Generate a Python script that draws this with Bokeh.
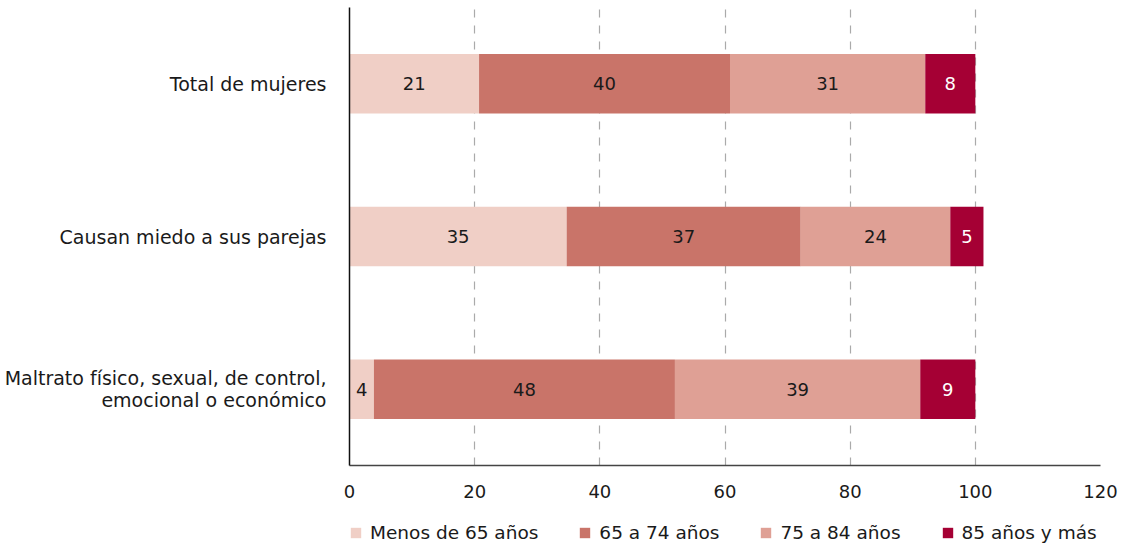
from bokeh.plotting import figure
from bokeh.layouts import column
from bokeh.models import (ColumnDataSource, FactorRange, Range1d, Legend, LegendItem,
                          FixedTicker, LabelSet)
from bokeh.core.properties import value
from bokeh.embed import file_html
from bokeh.resources import INLINE

categories = ["Total de mujeres", "Causan miedo a sus parejas",
              "Maltrato físico, sexual, de control,\nemocional o económico"]
series_names = ["Menos de 65 años", "65 a 74 años", "75 a 84 años", "85 años y más"]
menos65 = [20.7, 34.7, 3.9]
de65a74 = [40.1, 37.4, 48.1]
de75a84 = [31.2, 23.9, 39.2]
mas85 = [8.0, 5.3, 8.8]
colors = ["#f0cfc6", "#c97469", "#dfa095", "#a50034"]
label_colors = ["#1a1a1a", "#1a1a1a", "#1a1a1a", "#ffffff"]
x_ticks = [0, 20, 40, 60, 80, 100, 120]

FONT = "DejaVu Sans"
keys = ["s0", "s1", "s2", "s3"]
series = [menos65, de65a74, de75a84, mas85]

data = {"cat": categories}
for k, s in zip(keys, series):
    data[k] = s
source = ColumnDataSource(data)

p = figure(width=1132, height=505, output_backend="svg", toolbar_location=None,
           y_range=FactorRange(factors=list(reversed(categories))),
           x_range=Range1d(0, 120),
           min_border_left=349, min_border_right=32, min_border_top=7,
           min_border_bottom=40)
p.outline_line_color = None

renderers = p.hbar_stack(keys, y="cat", height=0.39, color=colors, line_color=None,
                         source=source)

# labels
for i, k in enumerate(keys):
    left = [sum(series[j][c] for j in range(i)) for c in range(len(categories))]
    mids = [l + series[i][c] / 2 for c, l in enumerate(left)]
    txt = [str(int(round(v))) for v in series[i]]
    ls = ColumnDataSource(dict(x=mids, y=categories, t=txt))
    p.add_layout(LabelSet(x="x", y="y", text="t", source=ls, text_align="center",
                          text_baseline="middle", text_font=value(FONT),
                          text_font_size=value("18px"),
                          text_color=value(label_colors[i])))

# axes
p.xaxis.ticker = FixedTicker(ticks=x_ticks)
p.xaxis.major_tick_line_color = None
p.xaxis.minor_tick_line_color = None
p.xaxis.major_tick_out = 0
p.xaxis.major_tick_in = 0
p.xaxis.major_label_standoff = 19
p.xaxis.major_label_text_font = FONT
p.xaxis.major_label_text_font_size = "18px"
p.xaxis.major_label_text_color = "#1a1a1a"
p.xaxis.axis_line_color = "#444444"
p.xaxis.axis_line_width = 1.5

p.yaxis.major_tick_line_color = None
p.yaxis.minor_tick_line_color = None
p.yaxis.major_tick_out = 0
p.yaxis.major_tick_in = 0
p.yaxis.major_label_standoff = 23
p.yaxis.major_label_text_font = FONT
p.yaxis.major_label_text_font_size = "19px"
p.yaxis.major_label_text_color = "#1a1a1a"
p.yaxis.major_label_text_line_height = 1.02
p.yaxis.axis_line_color = "#111111"
p.yaxis.axis_line_width = 1.5

p.xgrid.grid_line_color = "#aaaaaa"
p.xgrid.grid_line_dash = "8 8"
p.xgrid.grid_line_width = 1.2
p.ygrid.grid_line_color = None

# legend in a separate strip below the chart (frames are aligned by the column)
lg = figure(width=1132, height=39, output_backend="svg", toolbar_location=None,
            x_range=Range1d(0, 1), y_range=Range1d(0, 1),
            min_border_left=0, min_border_right=0, min_border_top=0, min_border_bottom=0)
lg.outline_line_color = None
lg.xaxis.visible = False
lg.yaxis.visible = False
lg.xgrid.visible = False
lg.ygrid.visible = False
# legend proxies: zero-size bars that only lend their colour to the legend
dummies = [lg.hbar(y=[0.5], left=[0.5], right=[0.5], height=0, color=c, line_color=None)
           for c in colors]

legend = Legend(items=[LegendItem(label=n, renderers=[r]) for n, r in zip(series_names, dummies)],
                orientation="horizontal", location=(0, 1),
                glyph_width=13, glyph_height=13, label_standoff=8, spacing=40,
                padding=0, margin=0, border_line_color=None,
                label_text_font=FONT, label_text_font_size="18.5px",
                label_text_color="#1a1a1a", label_height=16, background_fill_alpha=0)
lg.add_layout(legend, "center")

layout = column(p, lg, spacing=0)
open("out.html", "w").write(file_html(layout, INLINE))
